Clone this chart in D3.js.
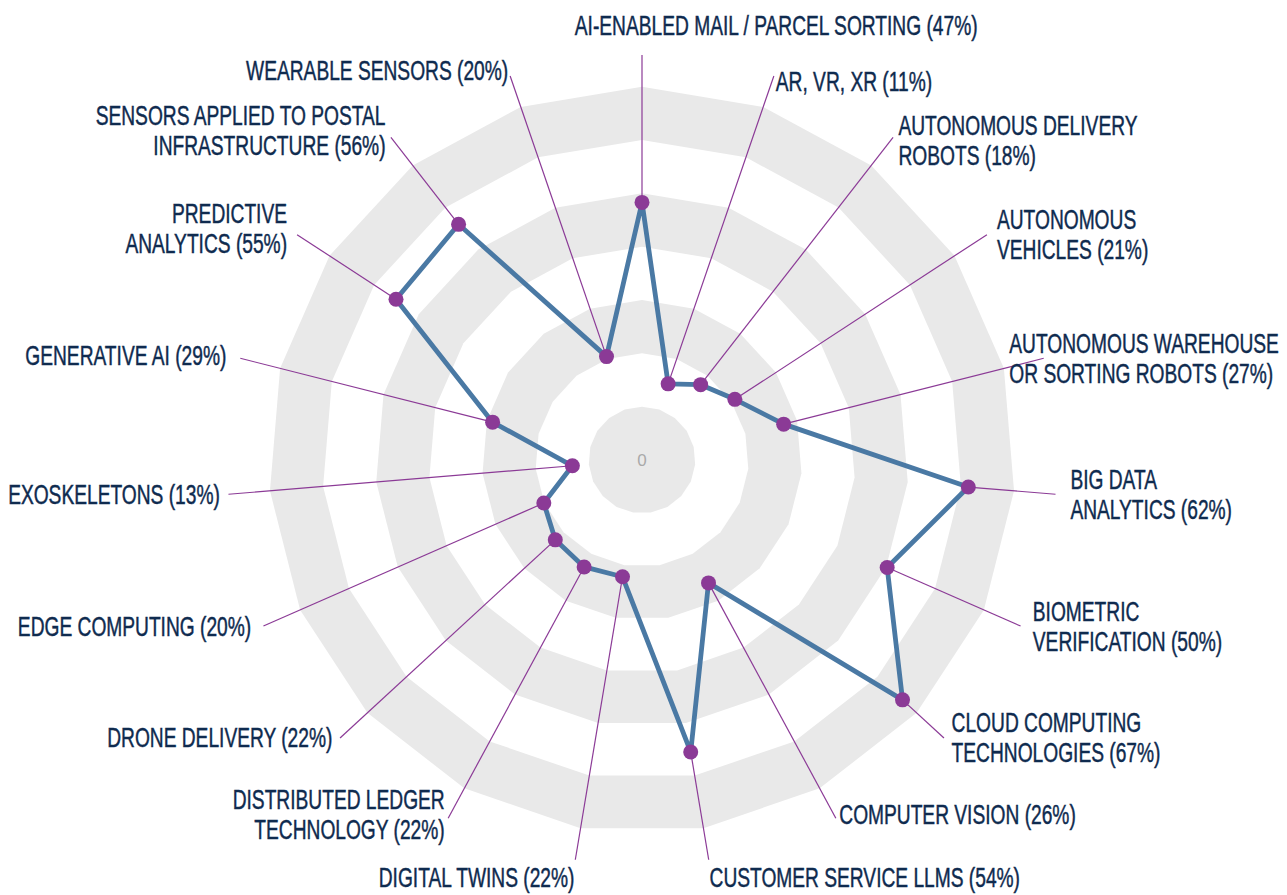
<!DOCTYPE html>
<meta charset="utf-8">
<title>Postal technology radar</title>
<style>
body { margin: 0; background: #fff; }
.label {
  font-family: "Liberation Sans Narrow", "Arial Narrow", "Liberation Sans", sans-serif;
  font-size: 27px;
  fill: #0f2b4f;
  stroke: #0f2b4f;
  stroke-width: 0.45px;
}
.zero {
  font-family: "Liberation Sans Narrow", "Liberation Sans", sans-serif;
  font-size: 17px;
  fill: #a9a9a9;
  text-anchor: middle;
}
</style>
<svg id="radar" width="1287" height="895"></svg>
<script src="https://d3js.org/d3.v7.min.js"></script>
<script>

// categories, "|" marks a line break in the label
var categories = [
  "AI-ENABLED MAIL / PARCEL SORTING",
  "AR, VR, XR",
  "AUTONOMOUS DELIVERY|ROBOTS",
  "AUTONOMOUS|VEHICLES",
  "AUTONOMOUS WAREHOUSE|OR SORTING ROBOTS",
  "BIG DATA|ANALYTICS",
  "BIOMETRIC|VERIFICATION",
  "CLOUD COMPUTING|TECHNOLOGIES",
  "COMPUTER VISION",
  "CUSTOMER SERVICE LLMS",
  "DIGITAL TWINS",
  "DISTRIBUTED LEDGER|TECHNOLOGY",
  "DRONE DELIVERY",
  "EDGE COMPUTING",
  "EXOSKELETONS",
  "GENERATIVE AI",
  "PREDICTIVE|ANALYTICS",
  "SENSORS APPLIED TO POSTAL|INFRASTRUCTURE",
  "WEARABLE SENSORS"
];

// percentages printed in the labels
var labelPct = [47, 11, 18, 21, 27, 62, 50, 67, 26, 54, 22, 22, 22, 20, 13, 29, 55, 56, 20];

// plotted values
var values = [48.3, 15.1, 17.9, 20.8, 27.4, 61.4, 50.2, 66.4, 26.2, 55.5, 22.2, 22.8, 22.1, 20.1, 13.1, 28.9, 55.1, 56.0, 20.5];

// grid levels, outermost first
var levels = [70, 60, 50, 40, 30, 20, 10];

var W = 1287,
    svg = d3.select("#radar"),
    cx = 642,
    cy = 460,
    outer = 373.3,
    n = categories.length;

var r = d3.scaleLinear().domain([0, 70]).range([0, outer]);
var angle = d3.scaleLinear().domain([0, n]).range([0, 2 * Math.PI]);

var g = svg.append("g").attr("transform", "translate(" + cx + "," + cy + ")");

// alternating grey / white bands
var ring = d3.lineRadial()
    .angle(function(d, i) { return angle(i); })
    .radius(function(d) { return r(d); })
    .curve(d3.curveLinearClosed);

g.selectAll(".band")
  .data(levels)
  .enter().append("path")
    .attr("class", "band")
    .attr("d", function(l) { return ring(d3.range(n).map(function() { return l; })); })
    .attr("fill", function(l) { return (l / 10) % 2 === 1 ? "#e9e9e9" : "#ffffff"; });

g.append("text")
    .attr("class", "zero")
    .attr("y", 6)
    .text("0");

// label placement radius, a bit wider at the sides than at top/bottom
function textRadius(a) { var s = Math.sin(a); return 410 + 20 * s * s; }
function leadRadius(a) { var s = Math.sin(a); return 405 + 10 * s * s; }

// leader lines
g.selectAll(".leader")
  .data(values)
  .enter().append("line")
    .attr("class", "leader")
    .attr("x1", function(v, i) { return d3.pointRadial(angle(i), r(v))[0]; })
    .attr("y1", function(v, i) { return d3.pointRadial(angle(i), r(v))[1]; })
    .attr("x2", function(v, i) { return d3.pointRadial(angle(i), leadRadius(angle(i)))[0]; })
    .attr("y2", function(v, i) { return d3.pointRadial(angle(i), leadRadius(angle(i)))[1]; })
    .attr("stroke", "#8b3a96")
    .attr("stroke-width", 1.2);

// series line
var series = d3.lineRadial()
    .angle(function(d, i) { return angle(i); })
    .radius(function(d) { return r(d); })
    .curve(d3.curveLinearClosed);

g.append("path")
    .attr("d", series(values))
    .attr("fill", "none")
    .attr("stroke", "#4a79a4")
    .attr("stroke-width", 4.8)
    .attr("stroke-linejoin", "round");

g.selectAll(".dot")
  .data(values)
  .enter().append("circle")
    .attr("class", "dot")
    .attr("cx", function(v, i) { return d3.pointRadial(angle(i), r(v))[0]; })
    .attr("cy", function(v, i) { return d3.pointRadial(angle(i), r(v))[1]; })
    .attr("r", 7.5)
    .attr("fill", "#8b3a96");

// labels: the font is squeezed horizontally to match the condensed face
var lineH = 30, capH = 19.7, edge = 8;
var probe = g.append("text").attr("class", "label").text(categories[0] + " (" + labelPct[0] + "%)");
var squeeze = 403 / probe.node().getComputedTextLength();
probe.remove();

g.selectAll(".label")
  .data(categories)
  .enter().append("text")
    .attr("class", "label")
    .each(function(c, i) {
      var a = angle(i),
          s = Math.sin(a),
          co = Math.cos(a),
          p = d3.pointRadial(a, textRadius(a)),
          lines = c.split("|"),
          k = lines.length,
          side = Math.abs(s) > 0.25,
          anchor, x = p[0], y0;
      lines[k - 1] += " (" + labelPct[i] + "%)";

      if (side) {
        anchor = s > 0 ? "start" : "end";
        var lean = (s > 0 || co < 0) ? 12 * co : 0;
        y0 = p[1] + lean - (k - 1) * lineH / 2 + capH / 2;
      } else if (co < 0) {
        anchor = s > 0 ? "start" : "end";
        y0 = p[1] + capH + 2;
      } else {
        anchor = "start";
        y0 = p[1] - 15 - (k - 1) * lineH;
      }

      var t = d3.select(this).attr("text-anchor", anchor);
      lines.forEach(function(l, j) {
        t.append("tspan").attr("x", 0).attr("y", j * lineH).text(l);
      });
      var w = t.node().getBBox().width * squeeze;
      if (!side && co > 0) {
        // the top label is set off to the right of its leader
        x -= w / 6;
      }
      // keep labels inside the picture
      if (anchor === "start" && cx + x + w > W - edge) x = W - edge - w - cx;
      if (anchor === "end" && cx + x - w < edge) x = edge + w - cx;
      t.attr("transform", "translate(" + x + "," + y0 + ") scale(" + squeeze + ",1)");
    });

</script>
